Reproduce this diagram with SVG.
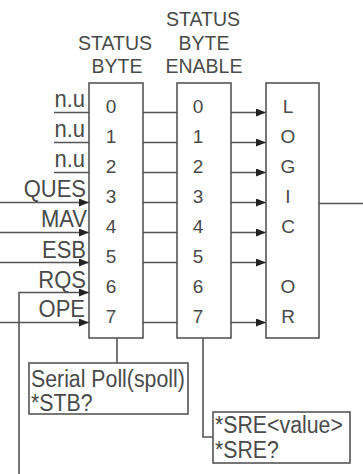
<svg xmlns="http://www.w3.org/2000/svg" width="363" height="474" viewBox="0 0 363 474">
<style>
  .bx{fill:#fff;stroke:#555;stroke-width:1.6}
  .ln{fill:none;stroke:#555;stroke-width:1.6}
  .ar{fill:none;stroke:#555;stroke-width:1.6;marker-end:url(#ah)}
  text{font-family:"Liberation Sans",Arial,sans-serif;fill:#4a4a4a}
  .hd{font-size:19.5px;text-anchor:middle}
  .dg{font-size:19px;text-anchor:middle}
  .lb{font-size:22px;text-anchor:end}
  .cm{font-size:21.3px}
</style>
<defs>
  <marker id="ah" markerUnits="userSpaceOnUse" markerWidth="10" markerHeight="8" refX="10" refY="4" orient="auto">
    <path d="M0,0 L10,4 L0,8 z" fill="#222"/>
  </marker>
</defs>
<rect width="363" height="474" fill="#fff"/>

<g id="headers">
  <text class="hd" transform="translate(115,50) scale(1,1.08)">STATUS</text>
  <text class="hd" transform="translate(117,73) scale(1,1.08)">BYTE</text>
  <text class="hd" transform="translate(203,26) scale(1,1.08)">STATUS</text>
  <text class="hd" transform="translate(204,50) scale(1,1.08)">BYTE</text>
  <text class="hd" transform="translate(204,73) scale(1,1.08)">ENABLE</text>
</g>

<g id="connectors">
  <line class="ln" x1="54" y1="112.5" x2="89" y2="112.5"/>
  <line class="ln" x1="54" y1="142.5" x2="89" y2="142.5"/>
  <line class="ln" x1="54" y1="172.5" x2="89" y2="172.5"/>
  <line class="ar" x1="0" y1="202.5" x2="89" y2="202.5"/>
  <line class="ar" x1="0" y1="232.5" x2="89" y2="232.5"/>
  <line class="ar" x1="0" y1="262.5" x2="89" y2="262.5"/>
  <polyline class="ar" points="19,474 19,292.5 89,292.5"/>
  <line class="ar" x1="0" y1="322.5" x2="89" y2="322.5"/>

  <line class="ln" x1="143" y1="112.5" x2="177" y2="112.5"/>
  <line class="ln" x1="143" y1="142.5" x2="177" y2="142.5"/>
  <line class="ln" x1="143" y1="172.5" x2="177" y2="172.5"/>
  <line class="ln" x1="143" y1="202.5" x2="177" y2="202.5"/>
  <line class="ln" x1="143" y1="232.5" x2="177" y2="232.5"/>
  <line class="ln" x1="143" y1="262.5" x2="177" y2="262.5"/>
  <line class="ln" x1="143" y1="322.5" x2="177" y2="322.5"/>

  <line class="ar" x1="231" y1="112.5" x2="266" y2="112.5"/>
  <line class="ar" x1="231" y1="142.5" x2="266" y2="142.5"/>
  <line class="ar" x1="231" y1="172.5" x2="266" y2="172.5"/>
  <line class="ar" x1="231" y1="202.5" x2="266" y2="202.5"/>
  <line class="ar" x1="231" y1="232.5" x2="266" y2="232.5"/>
  <line class="ar" x1="231" y1="262.5" x2="266" y2="262.5"/>
  <line class="ar" x1="231" y1="322.5" x2="266" y2="322.5"/>

  <line class="ln" x1="319" y1="203.5" x2="363" y2="203.5"/>
  <line class="ln" x1="117" y1="338" x2="117" y2="363"/>
  <polyline class="ln" points="203,338 203,437 213,437"/>
</g>

<g id="labels">
  <text class="lb" transform="translate(85,107) scale(1,1.1)">n.u</text>
  <text class="lb" transform="translate(85,137) scale(1,1.1)">n.u</text>
  <text class="lb" transform="translate(85,167) scale(1,1.1)">n.u</text>
  <text class="lb" transform="translate(86,197) scale(1,1.1)">QUES</text>
  <text class="lb" transform="translate(87,227) scale(1,1.1)">MAV</text>
  <text class="lb" transform="translate(86,257.5) scale(1,1.1)">ESB</text>
  <text class="lb" transform="translate(86,287.5) scale(1,1.1)">RQS</text>
  <text class="lb" transform="translate(85,317) scale(1,1.1)">OPE</text>
</g>

<g id="status-byte">
  <rect class="bx" x="89" y="83" width="54" height="255"/>
  <text class="dg" x="111" y="113">0</text>
  <text class="dg" x="111" y="143">1</text>
  <text class="dg" x="111" y="173">2</text>
  <text class="dg" x="111" y="203">3</text>
  <text class="dg" x="111" y="233">4</text>
  <text class="dg" x="111" y="263">5</text>
  <text class="dg" x="111" y="293">6</text>
  <text class="dg" x="111" y="323">7</text>
</g>

<g id="status-byte-enable">
  <rect class="bx" x="177" y="83" width="54" height="255"/>
  <text class="dg" x="198" y="113">0</text>
  <text class="dg" x="198" y="143">1</text>
  <text class="dg" x="198" y="173">2</text>
  <text class="dg" x="198" y="203">3</text>
  <text class="dg" x="198" y="233">4</text>
  <text class="dg" x="198" y="263">5</text>
  <text class="dg" x="198" y="293">6</text>
  <text class="dg" x="198" y="323">7</text>
</g>

<g id="logic-or">
  <rect class="bx" x="266" y="83" width="53" height="255"/>
  <text class="dg" x="288" y="113">L</text>
  <text class="dg" x="288" y="143">O</text>
  <text class="dg" x="288" y="173">G</text>
  <text class="dg" x="288" y="203">I</text>
  <text class="dg" x="288" y="233">C</text>
  <text class="dg" x="288" y="293">O</text>
  <text class="dg" x="288" y="323">R</text>
</g>

<g id="serial-poll">
  <rect class="bx" x="29" y="363" width="159" height="51"/>
  <text class="cm" transform="translate(31,387) scale(1,1.08)">Serial Poll(spoll)</text>
  <text class="cm" transform="translate(31,411) scale(1,1.08)">*STB?</text>
</g>

<g id="sre">
  <rect class="bx" x="213" y="412" width="137" height="51"/>
  <text class="cm" transform="translate(215,433) scale(1,1.08)">*SRE&lt;value&gt;</text>
  <text class="cm" transform="translate(215,458) scale(1,1.08)">*SRE?</text>
</g>
</svg>
